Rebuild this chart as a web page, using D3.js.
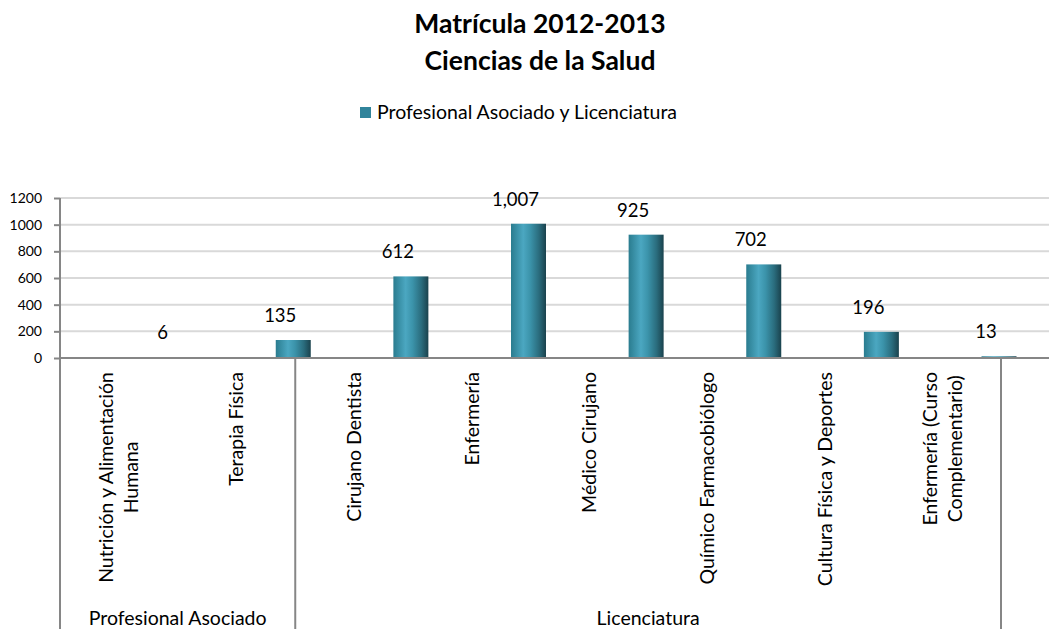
<!DOCTYPE html>
<html>
<head>
<meta charset="utf-8">
<script src="https://cdn.jsdelivr.net/npm/d3@7"></script>
<style>
  body { margin: 0; background: #fff; }
  svg { display: block; font-family: Lato, "Open Sans", sans-serif; }
</style>
</head>
<body>
<svg id="chart" width="1051" height="629"></svg>
<script>
const titleLines = ["Matrícula 2012-2013", "Ciencias de la Salud"];
const seriesName = "Profesional Asociado y Licenciatura";
const categories = [
  ["Nutrición y Alimentación", "Humana"],
  ["Terapia Física"],
  ["Cirujano Dentista"],
  ["Enfermería"],
  ["Médico Cirujano"],
  ["Químico Farmacobiólogo"],
  ["Cultura Física y Deportes"],
  ["Enfermería (Curso", "Complementario)"]
];
const values = [6, 135, 612, 1007, 925, 702, 196, 13];
const groups = ["Profesional Asociado", "Licenciatura"];
const groupSizes = [2, 6];
const yTicks = [0, 200, 400, 600, 800, 1000, 1200];

(function () {
const svg = d3.select("#chart");
const pLeft = 60, pRight = 1001, gridRight = 1049, pTop = 198, base = 358, pBottom = 629;

const ids = categories.map((c, i) => "c" + i);
const x = d3.scaleBand().domain(ids).range([pLeft, pRight]).padding(0);
const y = d3.scaleLinear().domain([0, 1200]).range([base, pTop]);

// gradient
const defs = svg.append("defs");
const grad = defs.append("linearGradient").attr("id", "barGrad")
  .attr("x1", "0%").attr("x2", "100%").attr("y1", "0%").attr("y2", "0%");
[["0%", "#2a7c8f"], ["35%", "#4ba7c1"], ["55%", "#3b93aa"], ["80%", "#2a6c7d"], ["100%", "#1a424d"]]
  .forEach(([o, c]) => grad.append("stop").attr("offset", o).attr("stop-color", c));

// title
svg.append("g").selectAll("text").data(titleLines).join("text")
  .attr("x", 540).attr("y", (d, i) => 33 + i * 37)
  .attr("text-anchor", "middle").attr("font-weight", "bold").attr("font-size", 26.5)
  .attr("fill", "#000").text(d => d);

// legend
svg.append("rect").attr("x", 360).attr("y", 107).attr("width", 11).attr("height", 11).attr("fill", "#31849b");
svg.append("text").attr("x", 377).attr("y", 119).attr("font-size", 19.5).attr("fill", "#000").text(seriesName);

// gridlines
svg.append("g").selectAll("line").data(yTicks.filter(t => t > 0)).join("line")
  .attr("x1", pLeft).attr("x2", gridRight).attr("y1", d => y(d)).attr("y2", d => y(d))
  .attr("stroke", "#d9d9d9").attr("stroke-width", 2);

// y axis
const yAxis = d3.axisLeft(y).tickValues(yTicks).tickSize(6).tickPadding(12).tickFormat(d3.format("d"));
const yg = svg.append("g").attr("transform", `translate(${pLeft},0)`).call(yAxis);
yg.select(".domain").remove();
yg.selectAll(".tick line").attr("stroke", "#868686").attr("stroke-width", 2);
yg.selectAll(".tick text").attr("font-size", 14).attr("fill", "#000").attr("font-family", "Lato, sans-serif");

// bars
const barW = 35;
const bx = id => x(id) + x.bandwidth() - 2;
svg.append("g").selectAll("rect").data(values).join("rect")
  .attr("x", (d, i) => bx(ids[i]) - barW / 2)
  .attr("y", d => y(d))
  .attr("width", barW)
  .attr("height", d => base - y(d))
  .attr("fill", "url(#barGrad)");

// data labels
svg.append("g").selectAll("text").data(values).join("text")
  .attr("x", (d, i) => bx(ids[i]) - 13)
  .attr("y", d => y(d) - 18)
  .attr("text-anchor", "middle").attr("font-size", 18.5).attr("fill", "#000")
  .text(d => d3.format(",")(d));

// axis lines
const axisColor = "#868686";
svg.append("line").attr("x1", pLeft).attr("x2", gridRight).attr("y1", base).attr("y2", base)
  .attr("stroke", axisColor).attr("stroke-width", 2);
svg.append("line").attr("x1", pLeft).attr("x2", pLeft).attr("y1", pTop).attr("y2", pBottom)
  .attr("stroke", axisColor).attr("stroke-width", 2);

// group dividers
let acc = 0;
const groupBounds = groupSizes.map(s => { const a = acc; acc += s; return [a, acc]; });
groupBounds.forEach(([a, b]) => {
  const xe = x(ids[b - 1]) + x.bandwidth();
  svg.append("line").attr("x1", xe).attr("x2", xe).attr("y1", base).attr("y2", pBottom)
    .attr("stroke", axisColor).attr("stroke-width", 2);
});

// category labels (rotated)
const labelTop = 372, fs = 19.5, lineGap = 25;
categories.forEach((lines, i) => {
  const cx = x(ids[i]) + x.bandwidth() / 2;
  const n = lines.length;
  const g = svg.append("g");
  const texts = lines.map((ln, j) => {
    const off = (j - (n - 1) / 2) * lineGap;
    return g.append("text")
      .attr("x", 0).attr("y", 0)
      .attr("text-anchor", "middle")
      .attr("font-size", fs).attr("fill", "#000")
      .attr("data-off", cx + off + 7)
      .text(ln);
  });
  const maxL = d3.max(texts, t => t.node().getComputedTextLength());
  texts.forEach(t => {
    t.attr("transform", `translate(${+t.attr("data-off")},${labelTop + maxL / 2}) rotate(-90)`);
  });
});

// group labels
svg.append("g").selectAll("text").data(groups).join("text")
  .attr("x", (d, i) => (x(ids[groupBounds[i][0]]) + x(ids[groupBounds[i][1] - 1]) + x.bandwidth()) / 2)
  .attr("y", 625)
  .attr("text-anchor", "middle").attr("font-size", 19.5).attr("fill", "#000")
  .text(d => d);
})();
</script>
</body>
</html>
